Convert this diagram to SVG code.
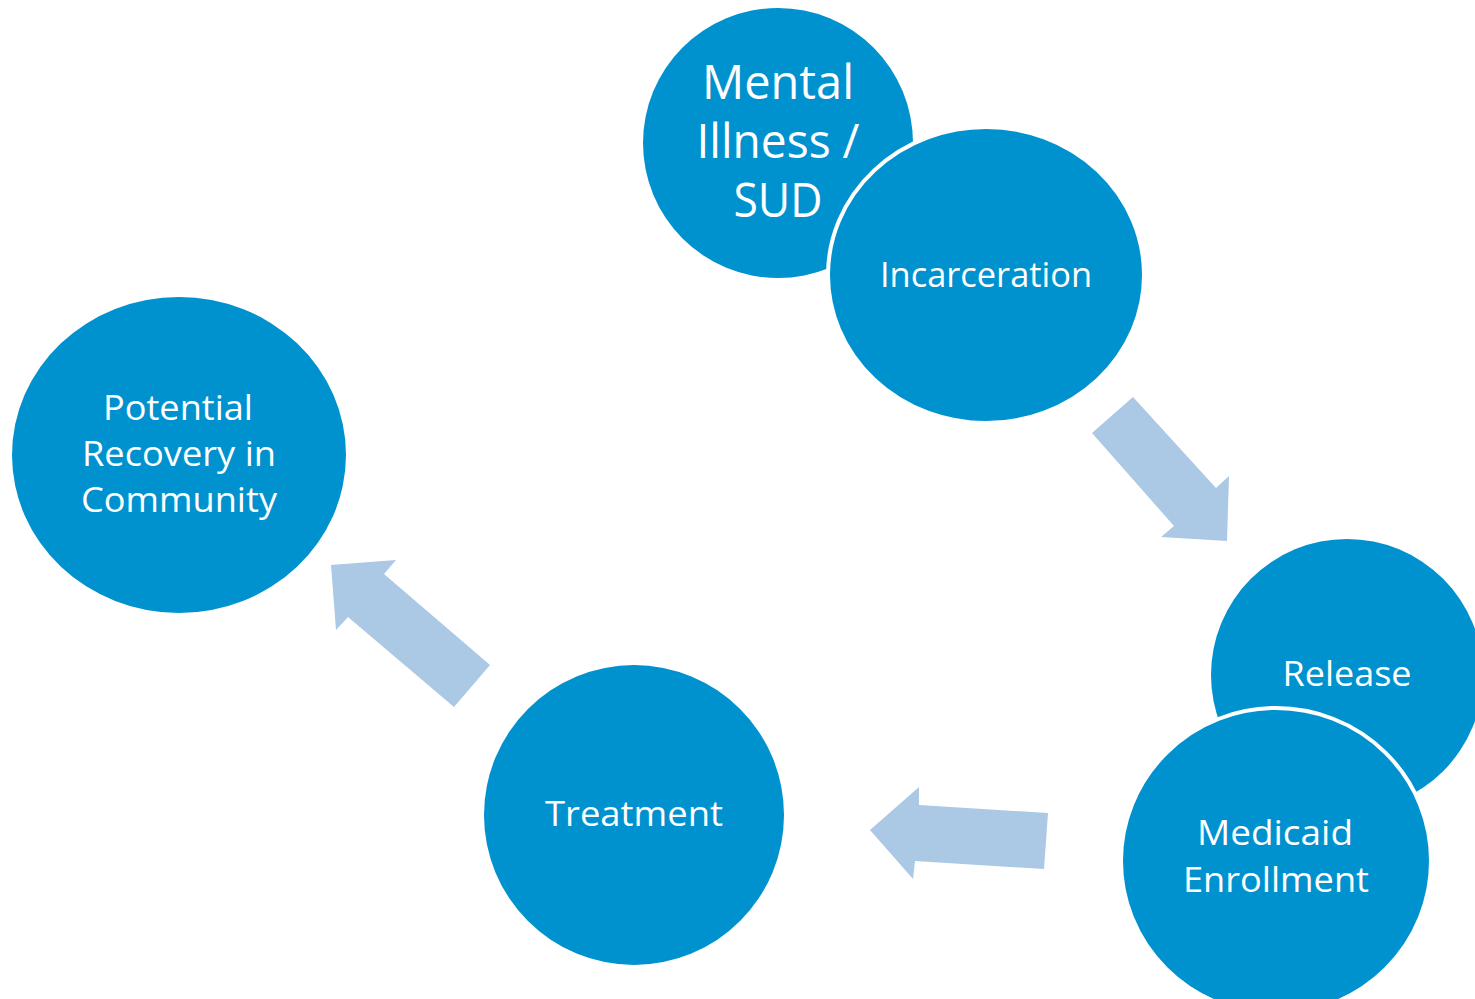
<svg xmlns="http://www.w3.org/2000/svg" width="1475" height="999" viewBox="0 0 1475 999">
<style>
.node{fill:#0092CF}
.ring{fill:#0092CF;stroke:#FFFFFF;stroke-width:4}
.arrow{fill:#ABC8E5}
text{font-family:"Open Sans","Noto Sans",sans-serif;fill:#FFFFFF;text-anchor:middle;font-size:34px}
.big{font-size:47px}
</style>
<rect width="1475" height="999" fill="#FFFFFF"/>
<g id="connectors">
<polygon class="arrow" points="1133,397 1092,433 1174,526 1161,537 1227,541 1229,476 1216,488"/>
<polygon class="arrow" points="870,830 919,787 919,805 1048,813 1044,869 915,861 913,879"/>
<polygon class="arrow" points="331,565 396,560 384,574 490,665 454,707 348,617 336,630"/>
</g>
<g id="node-mental">
<ellipse class="node" cx="778" cy="143" rx="135" ry="135"/>
<text class="big" x="778" y="99" textLength="152" lengthAdjust="spacingAndGlyphs">Mental</text>
<text class="big" x="778" y="158" textLength="163" lengthAdjust="spacingAndGlyphs">Illness /</text>
<text class="big" x="778" y="217" textLength="89" lengthAdjust="spacingAndGlyphs">SUD</text>
</g>
<g id="node-incarceration">
<ellipse class="ring" cx="986" cy="275" rx="158" ry="148"/>
<text x="986" y="287" textLength="212" lengthAdjust="spacingAndGlyphs">Incarceration</text>
</g>
<g id="node-release">
<ellipse class="node" cx="1347" cy="675" rx="136" ry="136"/>
<text x="1347" y="686" textLength="129" lengthAdjust="spacingAndGlyphs">Release</text>
</g>
<g id="node-medicaid">
<ellipse class="ring" cx="1276" cy="861" rx="155" ry="153"/>
<text x="1275" y="845" textLength="156" lengthAdjust="spacingAndGlyphs">Medicaid</text>
<text x="1276" y="892" textLength="186" lengthAdjust="spacingAndGlyphs">Enrollment</text>
</g>
<g id="node-treatment">
<ellipse class="node" cx="634" cy="815" rx="150" ry="150"/>
<text x="634" y="826" textLength="178" lengthAdjust="spacingAndGlyphs">Treatment</text>
</g>
<g id="node-recovery">
<ellipse class="node" cx="179" cy="455" rx="167" ry="158"/>
<text x="178" y="420" textLength="150" lengthAdjust="spacingAndGlyphs">Potential</text>
<text x="179" y="466" textLength="194" lengthAdjust="spacingAndGlyphs">Recovery in</text>
<text x="179" y="512" textLength="196" lengthAdjust="spacingAndGlyphs">Community</text>
</g>
</svg>
